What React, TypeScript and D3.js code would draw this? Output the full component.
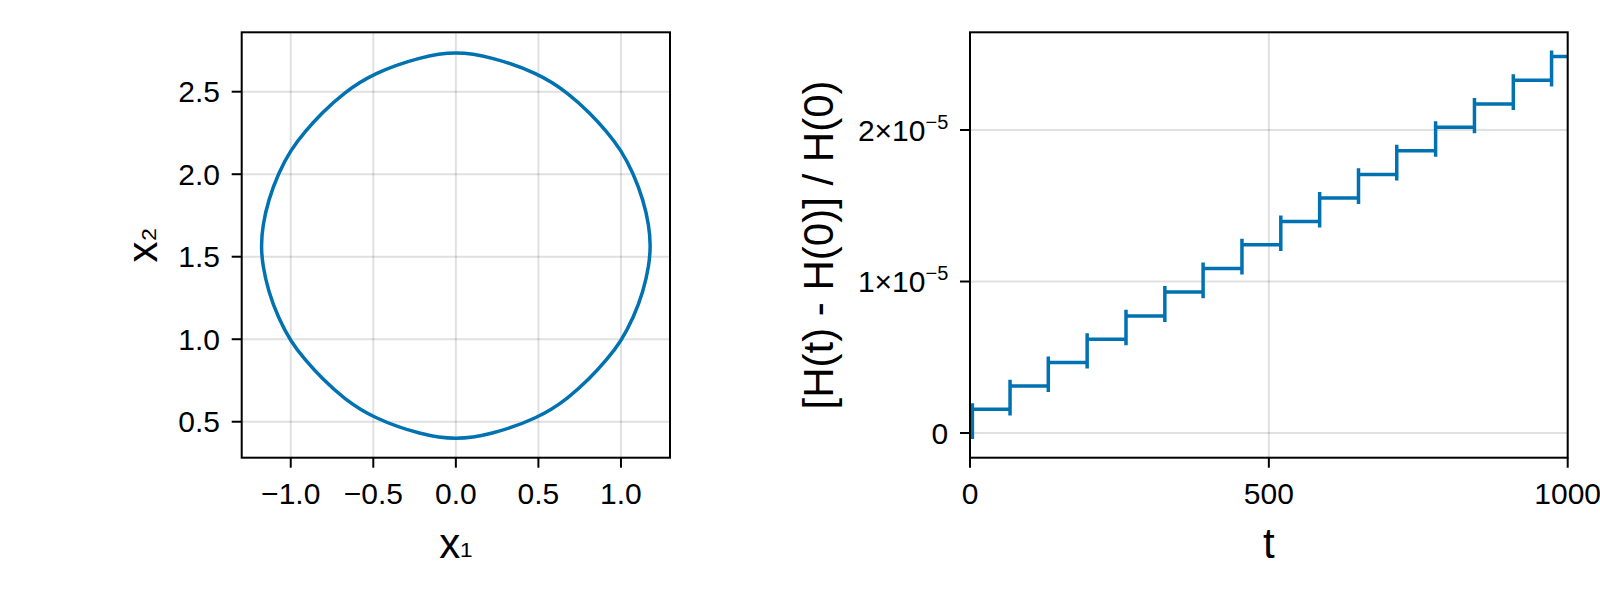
import React from "react";
import * as d3 from "d3";

// ---------- Left panel: phase-space orbit (x1, x2) ----------
const orbitX1 = [
  0, 0.206, 0.5, 0.681, 0.812, 0.913, 1.0, 1.075, 1.135, 1.17, 1.18,
  1.17, 1.135, 1.075, 1.0, 0.913, 0.812, 0.681, 0.5, 0.206,
  0, -0.206, -0.5, -0.681, -0.812, -0.913, -1.0, -1.075, -1.135, -1.17, -1.18,
  -1.17, -1.135, -1.075, -1.0, -0.913, -0.812, -0.681, -0.5, -0.206,
];
const orbitX2 = [
  2.744, 2.714, 2.613, 2.492, 2.371, 2.26, 2.148, 2.006, 1.845, 1.69, 1.567,
  1.444, 1.289, 1.128, 0.986, 0.874, 0.763, 0.642, 0.521, 0.42,
  0.39, 0.42, 0.521, 0.642, 0.763, 0.874, 0.986, 1.128, 1.289, 1.444, 1.567,
  1.69, 1.845, 2.006, 2.148, 2.26, 2.371, 2.492, 2.613, 2.714,
];
const leftXTicks = [-1.0, -0.5, 0.0, 0.5, 1.0];
const leftYTicks = [0.5, 1.0, 1.5, 2.0, 2.5];
const leftXDomain = [-1.297, 1.297];
const leftYDomain = [0.282, 2.86];

// ---------- Right panel: relative energy error ----------
const jumpTimes = [4, 67, 131, 196, 261, 326, 390, 455, 520, 585, 650, 714, 779, 844, 909, 973];
const levels = [
  0, 0.156, 0.311, 0.465, 0.619, 0.773, 0.93, 1.086, 1.242, 1.396, 1.551,
  1.707, 1.863, 2.018, 2.172, 2.328, 2.485,
].map((v) => v * 1e-5);
const spike = 0.04e-5;
const tEnd = 1000;
const rightXTicks = [0, 500, 1000];
const rightYTicks = [0, 1e-5, 2e-5];
const rightXDomain = [0, 1000];
const rightYDomain = [-0.163e-5, 2.645e-5];

const BLUE = "#0072B2";
const GRID = "rgba(0,0,0,0.12)";
const FONT = "'Liberation Sans', Arial, Helvetica, sans-serif";
const TICK_FS = 30;
const LABEL_FS = 42;

const fmtTick = (v: number) => (v < 0 ? "\u2212" + Math.abs(v).toFixed(1) : v.toFixed(1));

export default function App() {
  const L = { left: 241.7, right: 670, top: 32.3, bottom: 457.7 };
  const R = { left: 970, right: 1567.7, top: 32.3, bottom: 457.7 };

  const xL = d3.scaleLinear().domain(leftXDomain).range([L.left, L.right]);
  const yL = d3.scaleLinear().domain(leftYDomain).range([L.bottom, L.top]);
  const xR = d3.scaleLinear().domain(rightXDomain).range([R.left, R.right]);
  const yR = d3.scaleLinear().domain(rightYDomain).range([R.bottom, R.top]);

  const orbitPts: [number, number][] = orbitX1.map((x, i) => [x, orbitX2[i]]);
  const orbitPath = d3
    .line<[number, number]>()
    .x((d) => xL(d[0]))
    .y((d) => yL(d[1]))
    .curve(d3.curveBasisClosed)(orbitPts) as string;

  const stepPts: [number, number][] = [[0, levels[0]]];
  jumpTimes.forEach((t, k) => {
    stepPts.push([t, levels[k]]);
    stepPts.push([t, levels[k] - spike]);
    stepPts.push([t, levels[k + 1] + spike]);
    stepPts.push([t, levels[k + 1]]);
  });
  stepPts.push([tEnd, levels[levels.length - 1]]);
  const stepPath = d3
    .line<[number, number]>()
    .x((d) => xR(d[0]))
    .y((d) => yR(d[1]))(stepPts) as string;

  const tickLen = 10;
  const labelGap = 21.7;
  const xTickBaseline = 504;

  return (
    <svg
      width={1600}
      height={600}
      style={{ position: "absolute", left: 0, top: 0, background: "#fff" }}
      fontFamily={FONT}
    >
      <rect x={0} y={0} width={1600} height={600} fill="#fff" />
      <defs>
        <clipPath id="clipL">
          <rect x={L.left} y={L.top} width={L.right - L.left} height={L.bottom - L.top} />
        </clipPath>
        <clipPath id="clipR">
          <rect x={R.left} y={R.top - 2} width={R.right - R.left} height={R.bottom - R.top + 4} />
        </clipPath>
      </defs>

      {/* ---------- LEFT PANEL ---------- */}
      <g>
        {leftXTicks.map((v) => (
          <line key={"lgx" + v} x1={xL(v)} x2={xL(v)} y1={L.top} y2={L.bottom} stroke={GRID} strokeWidth={2} />
        ))}
        {leftYTicks.map((v) => (
          <line key={"lgy" + v} x1={L.left} x2={L.right} y1={yL(v)} y2={yL(v)} stroke={GRID} strokeWidth={2} />
        ))}
        <path d={orbitPath} fill="none" stroke={BLUE} strokeWidth={3.5} clipPath="url(#clipL)" />
        <rect x={L.left} y={L.top} width={L.right - L.left} height={L.bottom - L.top} fill="none" stroke="#000" strokeWidth={2} />
        {leftXTicks.map((v) => (
          <g key={"ltx" + v}>
            <line x1={xL(v)} x2={xL(v)} y1={L.bottom} y2={L.bottom + tickLen} stroke="#000" strokeWidth={2} />
            <text x={xL(v)} y={xTickBaseline} textAnchor="middle" fontSize={TICK_FS}>
              {fmtTick(v)}
            </text>
          </g>
        ))}
        {leftYTicks.map((v) => (
          <g key={"lty" + v}>
            <line x1={L.left - tickLen} x2={L.left} y1={yL(v)} y2={yL(v)} stroke="#000" strokeWidth={2} />
            <text x={L.left - labelGap} y={yL(v)} dy="0.35em" textAnchor="end" fontSize={TICK_FS}>
              {fmtTick(v)}
            </text>
          </g>
        ))}
        <text x={(L.left + L.right) / 2} y={558} textAnchor="middle" fontSize={LABEL_FS}>
          x<tspan fontSize={36} dy={-4}>₁</tspan>
        </text>
        <text
          transform={`translate(157,${(L.top + L.bottom) / 2}) rotate(-90)`}
          textAnchor="middle"
          fontSize={LABEL_FS}
        >
          x<tspan fontSize={36} dy={-4}>₂</tspan>
        </text>
      </g>

      {/* ---------- RIGHT PANEL ---------- */}
      <g>
        {rightXTicks.map((v) => (
          <line key={"rgx" + v} x1={xR(v)} x2={xR(v)} y1={R.top} y2={R.bottom} stroke={GRID} strokeWidth={2} />
        ))}
        {rightYTicks.map((v) => (
          <line key={"rgy" + v} x1={R.left} x2={R.right} y1={yR(v)} y2={yR(v)} stroke={GRID} strokeWidth={2} />
        ))}
        <path d={stepPath} fill="none" stroke={BLUE} strokeWidth={3.5} strokeLinejoin="miter" clipPath="url(#clipR)" />
        <rect x={R.left} y={R.top} width={R.right - R.left} height={R.bottom - R.top} fill="none" stroke="#000" strokeWidth={2} />
        {rightXTicks.map((v) => (
          <g key={"rtx" + v}>
            <line x1={xR(v)} x2={xR(v)} y1={R.bottom} y2={R.bottom + tickLen} stroke="#000" strokeWidth={2} />
            <text x={xR(v)} y={xTickBaseline} textAnchor="middle" fontSize={TICK_FS}>
              {String(v)}
            </text>
          </g>
        ))}
        {rightYTicks.map((v) => {
          const mant = Math.round(v / 1e-5);
          return (
            <g key={"rty" + v}>
              <line x1={R.left - tickLen} x2={R.left} y1={yR(v)} y2={yR(v)} stroke="#000" strokeWidth={2} />
              <text x={R.left - labelGap} y={yR(v)} dy="0.35em" textAnchor="end" fontSize={TICK_FS}>
                {v === 0 ? (
                  "0"
                ) : (
                  <>
                    {`${mant}×10`}
                    <tspan fontSize={20} dy={-11.7}>
                      −5
                    </tspan>
                  </>
                )}
              </text>
            </g>
          );
        })}
        <text x={(R.left + R.right) / 2} y={558} textAnchor="middle" fontSize={LABEL_FS}>
          t
        </text>
        <text
          transform={`translate(833,${(R.top + R.bottom) / 2}) rotate(-90)`}
          textAnchor="middle"
          fontSize={LABEL_FS}
        >
          [H(t) - H(0)] / H(0)
        </text>
      </g>
    </svg>
  );
}
